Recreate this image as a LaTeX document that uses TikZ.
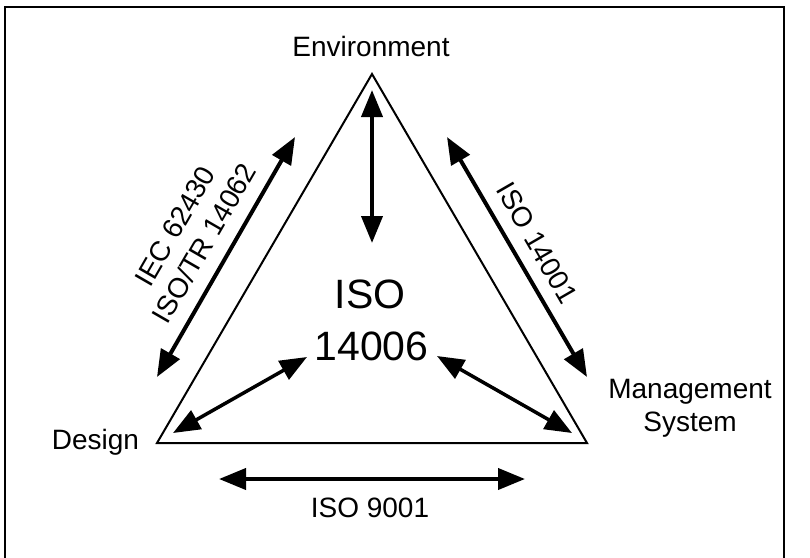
\documentclass[tikz,border=0pt]{standalone}
\usepackage{fontspec}
\setmainfont{Liberation Sans}
\usetikzlibrary{arrows.meta}
\begin{document}
\begin{tikzpicture}[x=1pt,y=-1pt,
  lbl/.style={font=\fontsize{28}{33}\selectfont, inner sep=0pt},
  big/.style={font=\fontsize{41}{48}\selectfont, inner sep=0pt},
  dbl/.style={line width=4pt, {Triangle[length=27pt,width=21pt]}-{Triangle[length=27pt,width=21pt]}},
  tri/.style={line width=2pt, line join=miter},
  frame/.style={line width=1.5pt}]
\useasboundingbox (0,0) rectangle (810,557);
\draw[frame] (5,562) -- (5,7) -- (784,7) -- (784,562);
% triangle vertices
\coordinate (top) at (372,74);
\coordinate (bl) at (157,443);
\coordinate (br) at (587,443);
\draw[tri] (top) -- (br) -- (bl) -- cycle;
% labels
\node[lbl, anchor=base] (env) at (371,56.5) {Environment};
\node[lbl, anchor=base] (des) at (95.5,449) {Design};
\node[lbl, anchor=base, align=center] (mgmt) at (690,431.5) {Management\\System};
\node[big, anchor=base] (iso) at (370,308) {ISO};
\node[big, anchor=base] (num) at (371.5,360) {14006};
\node[lbl, anchor=base] (q) at (370,517) {ISO 9001};
\node[lbl, rotate=60] (iec) at (175,226) {IEC 62430};
\node[lbl, rotate=60] (tr) at (204,243) {ISO/TR 14062};
\node[lbl, rotate=-60] (e14001) at (537,243) {ISO 14001};
% arrow end points
\coordinate (vA) at (372,90);
\coordinate (vB) at (372,243);
\coordinate (lA) at (157,377);
\coordinate (lB) at (295,137);
\coordinate (rA) at (447,137);
\coordinate (rB) at (587,377);
\coordinate (bA) at (219,479);
\coordinate (bB) at (525,479);
\coordinate (dA) at (173,433);
\coordinate (dB) at (307,357);
\coordinate (eA) at (437,356);
\coordinate (eB) at (572,433);
\draw[dbl] (vA) -- (vB);
\draw[dbl] (lA) -- (lB);
\draw[dbl] (rA) -- (rB);
\draw[dbl] (bA) -- (bB);
\draw[dbl, line width=3.5pt] (dA) -- (dB);
\draw[dbl, line width=3.5pt] (eA) -- (eB);
\end{tikzpicture}
\end{document}
